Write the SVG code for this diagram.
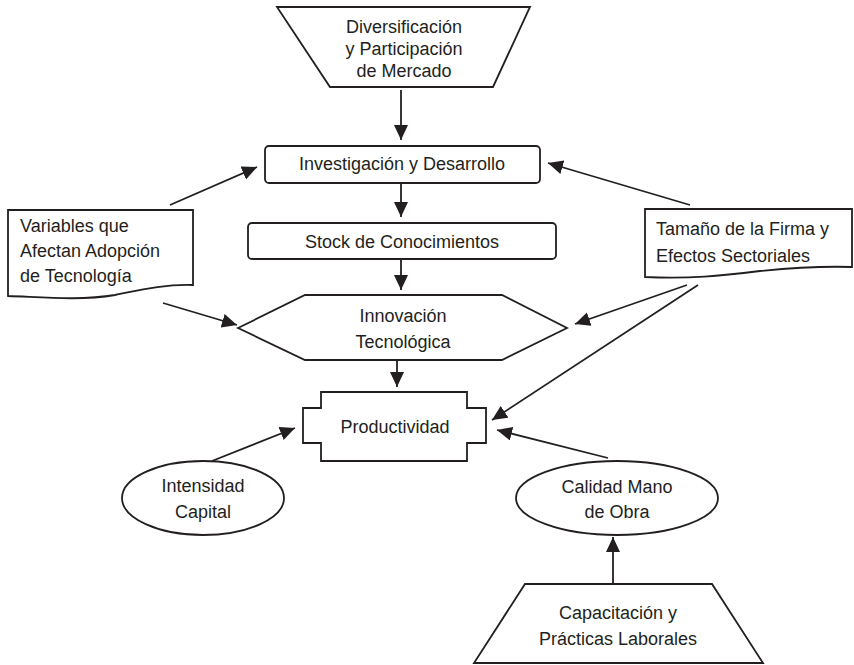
<svg xmlns="http://www.w3.org/2000/svg" width="854" height="665" viewBox="0 0 854 665">
<defs>
<marker id="arr" markerUnits="userSpaceOnUse" markerWidth="16" markerHeight="15" refX="15" refY="7" orient="auto">
<path d="M0,0 L15,7 L0,14 z" fill="#231f20"/>
</marker>
</defs>
<style>
.s{fill:#fff;stroke:#231f20;stroke-width:1.8;}
.t{font-family:"Liberation Sans",Arial,sans-serif;font-size:18px;fill:#231f20;}
.m{text-anchor:middle;}
.c{fill:none;stroke:#231f20;stroke-width:1.8;marker-end:url(#arr);}
</style>
<rect width="854" height="665" fill="#fff"/>
<g id="diversificacion">
<path class="s" d="M277,7 L530,7 L493,87 L330,87 z"/>
<text class="t m" x="404" y="33">Diversificación</text>
<text class="t m" x="404" y="55">y Participación</text>
<text class="t m" x="404" y="77">de Mercado</text>
</g>
<g id="investigacion">
<rect class="s" x="265" y="146" width="275" height="37" rx="4"/>
<text class="t m" x="402" y="170">Investigación y Desarrollo</text>
</g>
<g id="stock">
<rect class="s" x="248" y="223" width="308" height="36" rx="4"/>
<text class="t m" x="402" y="248">Stock de Conocimientos</text>
</g>
<g id="variables">
<path class="s" d="M8,210 L193,210 L193,285 C165,284 140,290 115,295 C80,301 40,297 8,296 z"/>
<text class="t" x="20" y="232">Variables que</text>
<text class="t" x="20" y="257">Afectan Adopción</text>
<text class="t" x="20" y="282">de Tecnología</text>
</g>
<g id="tamano">
<path class="s" d="M645,209 L852,209 L852,267 C820,266 790,268 760,271 C720,276 690,279 645,277 z"/>
<text class="t" x="656" y="235">Tamaño de la Firma y</text>
<text class="t" x="656" y="262">Efectos Sectoriales</text>
</g>
<g id="innovacion">
<path class="s" d="M238,328 L305,295 L502,295 L567,328 L502,360 L305,360 z"/>
<text class="t m" x="403" y="322">Innovación</text>
<text class="t m" x="403" y="348">Tecnológica</text>
</g>
<g id="productividad">
<path class="s" d="M321,392 L467,392 L467,408 L486,408 L486,443 L467,443 L467,461 L321,461 L321,443 L303,443 L303,408 L321,408 z"/>
<text class="t m" x="395" y="433">Productividad</text>
</g>
<g id="intensidad">
<ellipse class="s" cx="203" cy="498" rx="81" ry="37"/>
<text class="t m" x="203" y="492">Intensidad</text>
<text class="t m" x="203" y="518">Capital</text>
</g>
<g id="calidad">
<ellipse class="s" cx="617" cy="498" rx="101" ry="37"/>
<text class="t m" x="617" y="493">Calidad Mano</text>
<text class="t m" x="617" y="518">de Obra</text>
</g>
<g id="capacitacion">
<path class="s" d="M525,584 L712,584 L763,663 L474,663 z"/>
<text class="t m" x="618" y="619">Capacitación y</text>
<text class="t m" x="618" y="645">Prácticas Laborales</text>
</g>
<g id="connectors">
<line class="c" x1="401" y1="90" x2="401" y2="140"/>
<line class="c" x1="401" y1="184" x2="401" y2="217"/>
<line class="c" x1="401" y1="259" x2="401" y2="290"/>
<line class="c" x1="397" y1="360" x2="397" y2="387"/>
<line class="c" x1="170" y1="205" x2="257" y2="167"/>
<line class="c" x1="690" y1="205" x2="548" y2="163"/>
<line class="c" x1="163" y1="303" x2="237" y2="325"/>
<line class="c" x1="687" y1="285" x2="575" y2="324"/>
<line class="c" x1="698" y1="285" x2="492" y2="420"/>
<line class="c" x1="212" y1="461" x2="295" y2="428"/>
<line class="c" x1="608" y1="458" x2="497" y2="430"/>
<line class="c" x1="613" y1="583" x2="613" y2="537"/>
</g>
</svg>
